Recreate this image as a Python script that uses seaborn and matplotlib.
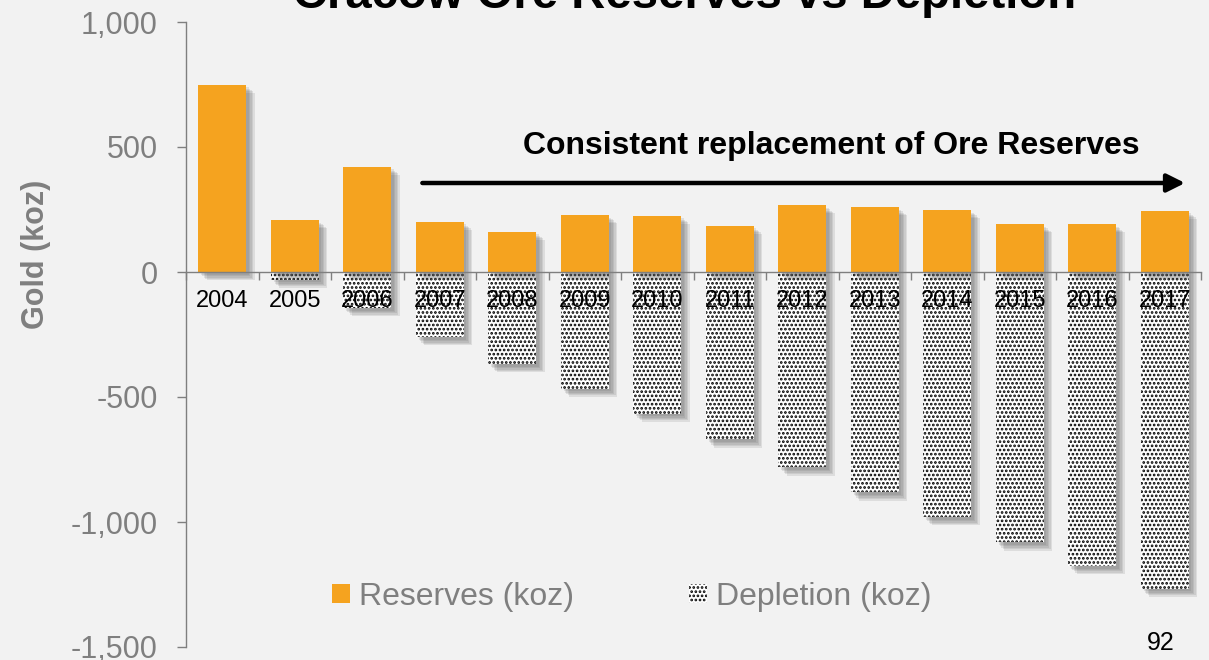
import matplotlib
matplotlib.use("Agg")
import matplotlib.pyplot as plt
import matplotlib.patheffects as pe
from matplotlib.patches import Patch
from matplotlib.ticker import FuncFormatter, MultipleLocator
import numpy as np
import pandas as pd
import seaborn as sns

# Annual figures (koz)
years = ["2004", "2005", "2006", "2007", "2008", "2009", "2010",
         "2011", "2012", "2013", "2014", "2015", "2016", "2017"]
reserves = [750, 209, 422, 202, 162, 229, 226, 186, 268, 260, 249, 192, 192, 246]
depletion = [0, -30, -143, -260, -368, -466, -566, -669, -781, -881, -980, -1081, -1175, -1266]

title_text = "Cracow Ore Reserves vs Depletion"
note_text = "Consistent replacement of Ore Reserves"
page_number = "92"

BG = "#F2F2F2"
ORANGE = "#F5A31F"
GREY = "#7F7F7F"
DOTS = "...."

sns.set_theme(style="white")
plt.rcParams["font.family"] = ["Liberation Sans", "DejaVu Sans"]
plt.rcParams["hatch.linewidth"] = 1.3
plt.rcParams["hatch.color"] = "black"

df_res = pd.DataFrame({"year": years, "value": reserves})
df_dep = pd.DataFrame({"year": years, "value": depletion})

fig = plt.figure(figsize=(12.09, 6.60), dpi=100, facecolor=BG)
ax = fig.add_axes([186 / 1209, 13 / 660, (1201 - 186) / 1209, 625 / 660])
ax.set_facecolor(BG)
ax.set_axisbelow(False)

# Soft drop shadow built from a few stacked, faint offsets
shadow = [pe.SimplePatchShadow(offset=(o, -o), shadow_rgbFace="#555555", alpha=0.13)
          for o in (2, 3, 4, 5, 6)] + [pe.Normal()]

# Depletion: plain bars carrying the shadow, then the dotted bars on top
sns.barplot(data=df_dep, x="year", y="value", order=years, color="white",
            width=0.66, saturation=1, ax=ax, errorbar=None, zorder=1.9)
n_base = len(ax.patches)
sns.barplot(data=df_dep, x="year", y="value", order=years, color="white",
            width=0.66, saturation=1, ax=ax, errorbar=None, zorder=2)
n_dep = len(ax.patches)
sns.barplot(data=df_res, x="year", y="value", order=years, color=ORANGE,
            width=0.66, saturation=1, ax=ax, errorbar=None, zorder=2)

for i, p in enumerate(ax.patches):
    p.set_linewidth(0)
    if i < n_base:
        p.set_facecolor("white")
        p.set_edgecolor("white")
        if p.get_height() != 0:
            p.set_path_effects(shadow)
    elif i < n_dep:
        p.set_facecolor("white")
        p.set_edgecolor("black")
        p.set_hatch(DOTS)
    else:
        p.set_edgecolor(ORANGE)
        p.set_path_effects(shadow)

ax.set_xlim(-0.5, 13.5)
ax.set_ylim(-1500, 1000)
ax.yaxis.set_major_locator(MultipleLocator(500))
ax.yaxis.set_major_formatter(FuncFormatter(lambda v, _: f"{int(v):,}"))

for s in ["top", "right"]:
    ax.spines[s].set_visible(False)
ax.spines["left"].set_color(GREY)
ax.spines["left"].set_linewidth(1.0)
ax.spines["bottom"].set_position(("data", 0))
ax.spines["bottom"].set_color(GREY)
ax.spines["bottom"].set_linewidth(1.0)
ax.spines["bottom"].set_zorder(3)

ax.tick_params(axis="y", which="major", length=6.5, width=1, color=GREY,
               labelcolor=GREY, labelsize=22, pad=14, left=True)
ax.tick_params(axis="x", which="major", length=0, labelcolor="black",
               labelsize=17, pad=13)
ax.set_xticks(np.arange(len(years) + 1) - 0.5, minor=True)
ax.tick_params(axis="x", which="minor", length=6, width=1, color=GREY, bottom=True)

ax.set_xlabel("")
ax.set_ylabel("Gold (koz)", color=GREY, fontsize=22, fontweight="bold")
ax.yaxis.set_label_coords((51 - 186) / 1015, (647 - 254) / 625)

# Trend arrow with its caption
ax.annotate("", xy=(13.28, 356), xytext=(2.76, 356),
            arrowprops=dict(arrowstyle="-|>,head_length=0.9,head_width=0.45",
                            color="black", lw=3.2, shrinkA=0, shrinkB=0))
ax.text(8.4, 505, note_text, ha="center", va="center", fontsize=23,
        fontweight="bold", color="black")

fig.text(685 / 1209, 1 - 8 / 660, title_text, ha="center", va="baseline",
         fontsize=34, fontweight="bold", color="black")
fig.text(1161 / 1209, 1 - 643 / 660, page_number, ha="center", va="center",
         fontsize=18, color="black")

handles = [Patch(facecolor=ORANGE, edgecolor=ORANGE, linewidth=0),
           Patch(facecolor="white", edgecolor="black", linewidth=0, hatch=DOTS)]
leg = ax.legend(handles, ["Reserves (koz)", "Depletion (koz)"], ncol=2,
                loc="center", bbox_to_anchor=(632 / 1209, 1 - 597 / 660),
                bbox_transform=fig.transFigure, frameon=False, fontsize=23,
                handlelength=0.55, handleheight=0.55, handletextpad=0.3,
                columnspacing=3.6, labelcolor=GREY)

fig.savefig("out.png", dpi=100, facecolor=BG)
